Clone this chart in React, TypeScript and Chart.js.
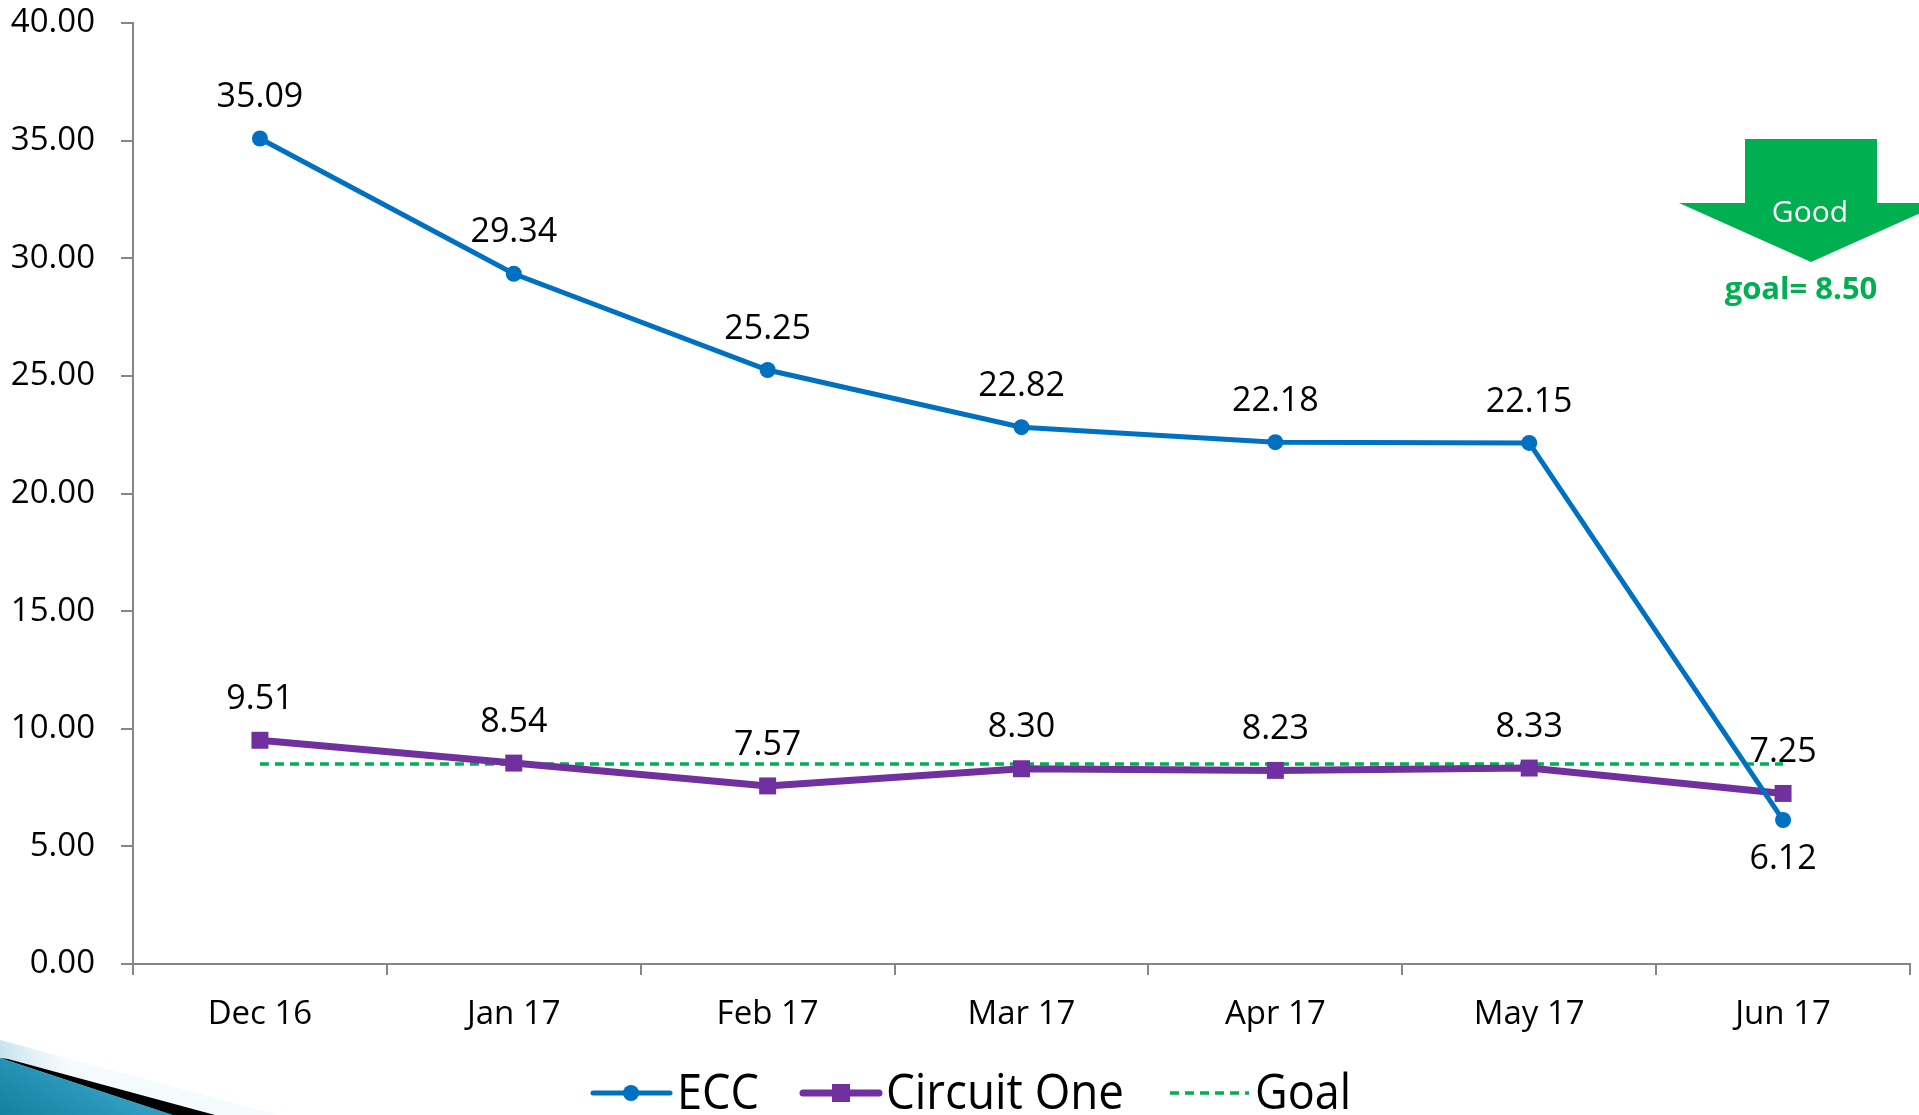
import React, { useEffect, useRef } from "react";
import { Chart, registerables } from "chart.js";

Chart.register(...registerables);

const categories = ["Dec 16", "Jan 17", "Feb 17", "Mar 17", "Apr 17", "May 17", "Jun 17"];
const eccValues = [35.09, 29.34, 25.25, 22.82, 22.18, 22.15, 6.12];
const circuitOneValues = [9.51, 8.54, 7.57, 8.3, 8.23, 8.33, 7.25];
const goalValues = [8.5, 8.5, 8.5, 8.5, 8.5, 8.5, 8.5];
const goalText = "goal= 8.50";
const arrowText = "Good";
const seriesNames = ["ECC", "Circuit One", "Goal"];

const FONT = "'Open Sans', 'Noto Sans', sans-serif";
const BLUE = "#0070C0";
const PURPLE = "#7030A0";
const GREEN = "#00B050";
const AXIS = "#868686";

const W = 1919;
const H = 1115;

const labelsPlugin = {
  id: "valueLabels",
  afterDatasetsDraw(chart: any) {
    const ctx = chart.ctx;
    ctx.save();
    ctx.font = `34px ${FONT}`;
    ctx.fillStyle = "#000";
    ctx.textAlign = "center";
    ctx.textBaseline = "middle";
    [0, 1].forEach((di) => {
      const meta = chart.getDatasetMeta(di);
      const data = chart.data.datasets[di].data as number[];
      meta.data.forEach((pt: any, i: number) => {
        const below = di === 0 && i === data.length - 1;
        const dy = below ? 39 : -41;
        ctx.fillText(data[i].toFixed(2), pt.x, pt.y + dy);
      });
    });
    ctx.restore();
  },
};

const decorPlugin = {
  id: "decor",
  afterDraw(chart: any) {
    const ctx = chart.ctx;
    ctx.save();
    // Arrow
    ctx.fillStyle = GREEN;
    ctx.beginPath();
    ctx.moveTo(1745, 139);
    ctx.lineTo(1877, 139);
    ctx.lineTo(1877, 203);
    ctx.lineTo(1943, 203);
    ctx.lineTo(1811, 262);
    ctx.lineTo(1679, 203);
    ctx.lineTo(1745, 203);
    ctx.closePath();
    ctx.fill();
    ctx.fillStyle = "#fff";
    ctx.font = `30px ${FONT}`;
    ctx.textAlign = "center";
    ctx.textBaseline = "middle";
    ctx.fillText(arrowText, 1810, 213);
    ctx.fillStyle = GREEN;
    ctx.font = `bold 31px ${FONT}`;
    ctx.fillText(goalText, 1801, 290);

    // Legend
    const ly = 1093;
    ctx.lineCap = "round";
    ctx.strokeStyle = BLUE;
    ctx.lineWidth = 5;
    ctx.beginPath();
    ctx.moveTo(593, ly);
    ctx.lineTo(670, ly);
    ctx.stroke();
    ctx.fillStyle = BLUE;
    ctx.beginPath();
    ctx.arc(631, ly, 8, 0, Math.PI * 2);
    ctx.fill();
    ctx.strokeStyle = PURPLE;
    ctx.lineWidth = 7;
    ctx.beginPath();
    ctx.moveTo(803, ly);
    ctx.lineTo(879, ly);
    ctx.stroke();
    ctx.fillStyle = PURPLE;
    ctx.fillRect(832, ly - 9, 18, 18);
    ctx.lineCap = "butt";
    ctx.strokeStyle = GREEN;
    ctx.lineWidth = 3.5;
    ctx.setLineDash([9, 6]);
    ctx.beginPath();
    ctx.moveTo(1170, ly);
    ctx.lineTo(1249, ly);
    ctx.stroke();
    ctx.setLineDash([]);

    ctx.fillStyle = "#000";
    ctx.textAlign = "left";
    ctx.textBaseline = "middle";
    const legendText = (t: string, x: number, w: number) => {
      ctx.font = `50px ${FONT}`;
      const m = ctx.measureText(t).width;
      ctx.save();
      ctx.translate(x, ly + 2);
      ctx.scale(w / m, 1);
      ctx.fillText(t, 0, 0);
      ctx.restore();
    };
    legendText(seriesNames[0], 677, 82);
    legendText(seriesNames[1], 886, 238);
    legendText(seriesNames[2], 1255, 96);

    // Bottom-left swoosh
    const haze = ctx.createLinearGradient(0, 1060, 60, 1040);
    haze.addColorStop(0, "rgba(185,222,236,0.9)");
    haze.addColorStop(1, "rgba(230,243,248,0.4)");
    ctx.fillStyle = haze;
    ctx.beginPath();
    ctx.moveTo(0, 1040);
    ctx.lineTo(278, 1115);
    ctx.lineTo(0, 1115);
    ctx.closePath();
    ctx.fill();
    ctx.fillStyle = "#000";
    ctx.beginPath();
    ctx.moveTo(8, 1059);
    ctx.lineTo(215, 1115);
    ctx.lineTo(172, 1115);
    ctx.lineTo(0, 1058);
    ctx.closePath();
    ctx.fill();
    const grad = ctx.createLinearGradient(0, 1115, 40, 1050);
    grad.addColorStop(0, "#15809f");
    grad.addColorStop(1, "#2f9dc0");
    ctx.fillStyle = grad;
    ctx.beginPath();
    ctx.moveTo(0, 1058);
    ctx.lineTo(173, 1115);
    ctx.lineTo(0, 1115);
    ctx.closePath();
    ctx.fill();
    ctx.restore();
  },
};

export default function App() {
  const ref = useRef<HTMLCanvasElement | null>(null);
  useEffect(() => {
    document.body.style.margin = "0";
    document.body.style.overflow = "hidden";
    const canvas = ref.current;
    if (!canvas) return;
    const chart = new Chart(canvas, {
      type: "line",
      data: {
        labels: categories,
        datasets: [
          {
            label: seriesNames[0],
            data: eccValues,
            borderColor: BLUE,
            backgroundColor: BLUE,
            borderWidth: 5,
            pointStyle: "circle",
            pointRadius: 8,
            pointBorderWidth: 0,
            tension: 0,
          },
          {
            label: seriesNames[1],
            data: circuitOneValues,
            borderColor: PURPLE,
            backgroundColor: PURPLE,
            borderWidth: 7,
            pointStyle: "rect",
            pointRadius: 12,
            pointBorderWidth: 0,
            tension: 0,
          },
          {
            label: seriesNames[2],
            data: goalValues,
            borderColor: GREEN,
            backgroundColor: GREEN,
            borderWidth: 3.5,
            borderDash: [9, 6],
            pointRadius: 0,
            tension: 0,
          },
        ],
      },
      options: {
        responsive: false,
        animation: false,
        layout: { autoPadding: false, padding: { top: 23, right: 9, bottom: 0, left: 0 } },
        plugins: {
          legend: { display: false },
          tooltip: { enabled: false },
        },
        scales: {
          x: {
            offset: true,
            grid: {
              offset: true,
              drawOnChartArea: false,
              drawTicks: true,
              tickLength: 11,
              color: AXIS,
              lineWidth: 2,
            },
            border: { color: AXIS, width: 2 },
            ticks: {
              color: "#000",
              font: { family: FONT, size: 33 },
              padding: 20,
              maxRotation: 0,
            },
            afterFit: (s: any) => {
              s.height = 151;
              s.paddingLeft = 0;
              s.paddingRight = 0;
            },
          },
          y: {
            min: 0,
            max: 40,
            grid: {
              drawOnChartArea: false,
              drawTicks: true,
              tickLength: 12,
              color: AXIS,
              lineWidth: 2,
            },
            border: { color: AXIS, width: 2 },
            ticks: {
              stepSize: 5,
              color: "#000",
              font: { family: FONT, size: 33 },
              padding: 26,
              callback: (v: any) => Number(v).toFixed(2),
            },
            afterFit: (s: any) => {
              s.width = 133;
              s.paddingTop = 0;
              s.paddingBottom = 0;
            },
          },
        },
      },
      plugins: [labelsPlugin, decorPlugin],
    });
    return () => chart.destroy();
  }, []);
  return (
    <canvas
      ref={ref}
      width={W}
      height={H}
      style={{ display: "block", width: W, height: H }}
    />
  );
}
